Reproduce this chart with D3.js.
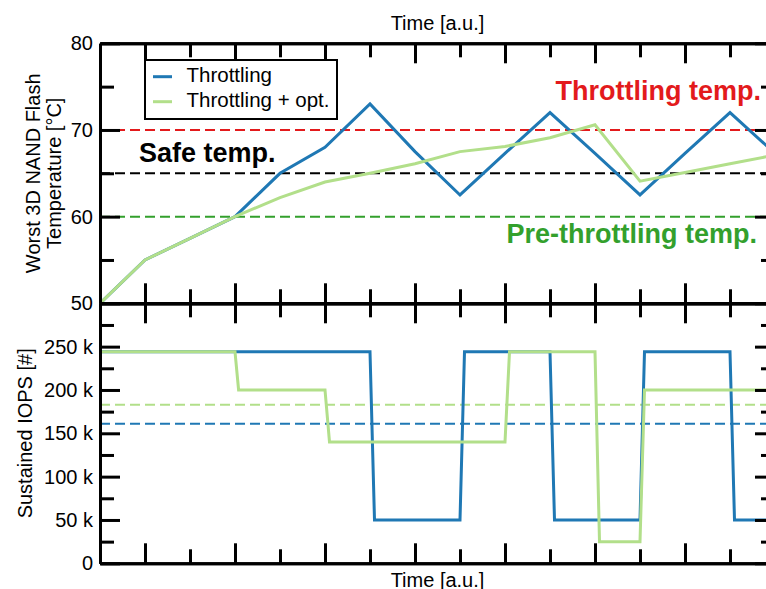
<!DOCTYPE html>
<html>
<head>
<meta charset="utf-8">
<script src="https://cdn.jsdelivr.net/npm/d3@7"></script>
<style>
  html, body { margin: 0; padding: 0; background: #fff; }
  svg { display: block; font-family: "Liberation Sans", Arial, Helvetica, sans-serif; }
</style>
</head>
<body>
<svg id="chart" width="766" height="589"></svg>
<script>
// Time axis (arbitrary units)
const timeSteps = [0, 1, 2, 3, 4, 5, 6, 7, 8, 9, 10, 11, 12, 13, 14, 15];
const timeMajorTicks = [1, 3, 5, 7, 9, 11, 13, 15];
const timeMinorTicks = [2, 4, 6, 8, 10, 12, 14];

// Worst 3D NAND flash temperature [°C]
const tempThrottling    = [50, 55, 57.5, 60, 65, 68, 73, 67.5, 62.5, 67.3, 72, 67.3, 62.5, 67.3, 72, 67.3];
const tempThrottlingOpt = [50, 55, 57.5, 60, 62.2, 64, 65, 66.1, 67.5, 68.1, 69.1, 70.6, 64.1, 65.1, 66.1, 67.1];

// Temperature thresholds
const thresholdNames  = ["Throttling temp.", "Safe temp.", "Pre-throttling temp."];
const thresholdValues = [70, 65, 60];

// Sustained IOPS (step profiles)
const iopsThrottlingTime = [0, 6, 6.1, 8, 8.1, 10, 10.1, 12, 12.1, 14, 14.1, 15];
const iopsThrottling     = [244000, 244000, 50000, 50000, 244000, 244000, 50000, 50000, 244000, 244000, 50000, 50000];
const iopsOptTime        = [0, 3, 3.08, 5, 5.1, 9, 9.1, 11, 11.1, 12, 12.1, 15];
const iopsOpt            = [244000, 244000, 200000, 200000, 140000, 140000, 244000, 244000, 25000, 25000, 200000, 200000];

// Average sustained IOPS
const avgIopsThrottling = 161000;
const avgIopsOpt        = 183000;

// Axis ticks
const tempMajorTicks = [50, 60, 70, 80];
const tempMinorTicks = [55, 65, 75];
const iopsMajorTicks = [0, 50000, 100000, 150000, 200000, 250000];
const iopsMinorTicks = [25000, 75000, 125000, 175000, 225000, 275000];
const seriesNames = ["Throttling", "Throttling + opt."];

const BLUE = "#1f78b4", LGREEN = "#b2df8a", RED = "#e31a1c", GREEN = "#33a02c";

const svg = d3.select("#chart");
const plotLeft = 100, plotRight = 775, plotTop = 43.3, plotMid = 303.3, plotBottom = 563.3;

const x = d3.scaleLinear().domain([0, 15]).range([plotLeft, plotRight]);
const yT = d3.scaleLinear().domain([50, 80]).range([plotMid, plotTop]);
const yI = d3.scaleLinear().domain([0, 300000]).range([plotBottom, plotMid]);

const MAJ = 20, MIN = 14, AX = 3;

function styleAxis(g) {
  g.select(".domain").attr("stroke", "#000").attr("stroke-width", AX);
  g.selectAll(".tick line").attr("stroke", "#000").attr("stroke-width", AX);
  g.selectAll(".tick text").attr("fill", "#000").attr("font-size", 20)
    .attr("font-family", "'Liberation Sans', Arial, sans-serif");
}

// ---------- Reference / threshold lines (drawn under the data) ----------
const thrColors = [RED, "#000", GREEN];
svg.append("g").selectAll("line").data(thresholdValues).join("line")
  .attr("x1", x(0)).attr("x2", x(15))
  .attr("y1", d => yT(d)).attr("y2", d => yT(d))
  .attr("stroke", (d, i) => thrColors[i]).attr("stroke-width", 2)
  .attr("stroke-dasharray", "10,5");

svg.append("g").selectAll("line").data([avgIopsOpt, avgIopsThrottling]).join("line")
  .attr("x1", x(0)).attr("x2", x(15))
  .attr("y1", d => yI(d)).attr("y2", d => yI(d))
  .attr("stroke", (d, i) => i === 0 ? LGREEN : BLUE).attr("stroke-width", 2)
  .attr("stroke-dasharray", "10,5");

// ---------- Data lines ----------
const lineT = d3.line().x((d, i) => x(timeSteps[i])).y(d => yT(d));
svg.append("path").datum(tempThrottling).attr("d", lineT)
  .attr("fill", "none").attr("stroke", BLUE).attr("stroke-width", 3).attr("stroke-linejoin", "miter");
svg.append("path").datum(tempThrottlingOpt).attr("d", lineT)
  .attr("fill", "none").attr("stroke", LGREEN).attr("stroke-width", 3).attr("stroke-linejoin", "miter");

const lineI = ts => d3.line().x((d, i) => x(ts[i])).y(d => yI(d));
svg.append("path").datum(iopsThrottling).attr("d", lineI(iopsThrottlingTime))
  .attr("fill", "none").attr("stroke", BLUE).attr("stroke-width", 3);
svg.append("path").datum(iopsOpt).attr("d", lineI(iopsOptTime))
  .attr("fill", "none").attr("stroke", LGREEN).attr("stroke-width", 3);

// ---------- Axes (ticks pointing inward) ----------
function axisPair(axisFn, scale, major, minor, transform, fmt) {
  const gMin = svg.append("g").attr("transform", transform)
    .call(axisFn(scale).tickValues(minor).tickSize(-MIN).tickSizeOuter(0).tickFormat(""));
  styleAxis(gMin);
  const gMaj = svg.append("g").attr("transform", transform)
    .call(axisFn(scale).tickValues(major).tickSize(-MAJ).tickSizeOuter(0).tickPadding(7)
      .tickFormat(fmt || ""));
  styleAxis(gMaj);
  return gMaj;
}

// Top panel
axisPair(d3.axisTop, x, timeMajorTicks, timeMinorTicks, `translate(0,${plotTop})`);
axisPair(d3.axisBottom, x, timeMajorTicks, timeMinorTicks, `translate(0,${plotMid})`);
axisPair(d3.axisLeft, yT, tempMajorTicks, tempMinorTicks, `translate(${plotLeft},0)`, d3.format("d"));
axisPair(d3.axisRight, yT, tempMajorTicks, tempMinorTicks, `translate(${plotRight},0)`);

// Bottom panel
axisPair(d3.axisTop, x, timeMajorTicks, timeMinorTicks, `translate(0,${plotMid})`);
axisPair(d3.axisBottom, x, timeMajorTicks, timeMinorTicks, `translate(0,${plotBottom})`);
axisPair(d3.axisLeft, yI, iopsMajorTicks, iopsMinorTicks, `translate(${plotLeft},0)`,
  d => d === 0 ? "0" : (d / 1000) + " k");
axisPair(d3.axisRight, yI, iopsMajorTicks, iopsMinorTicks, `translate(${plotRight},0)`);

// ---------- Axis titles ----------
const cx = (plotLeft + plotRight) / 2;
svg.append("text").attr("x", cx).attr("y", 30).attr("text-anchor", "middle")
  .attr("font-size", 20).text("Time [a.u.]");
svg.append("text").attr("x", cx).attr("y", 586.5).attr("text-anchor", "middle")
  .attr("font-size", 20).text("Time [a.u.]");

const tMid = (plotTop + plotMid) / 2;
svg.append("text").attr("transform", `translate(40,${tMid}) rotate(-90)`)
  .attr("text-anchor", "middle").attr("font-size", 20).text("Worst 3D NAND Flash");
svg.append("text").attr("transform", `translate(61,${tMid}) rotate(-90)`)
  .attr("text-anchor", "middle").attr("font-size", 20).text("Temperature [°C]");
const iMid = (plotMid + plotBottom) / 2;
svg.append("text").attr("transform", `translate(32,${iMid}) rotate(-90)`)
  .attr("text-anchor", "middle").attr("font-size", 20).text("Sustained IOPS [#]");

// ---------- Threshold annotations ----------
svg.append("text").attr("x", 761).attr("y", 100).attr("text-anchor", "end")
  .attr("font-size", 27).attr("font-weight", "bold").attr("fill", RED).text(thresholdNames[0]);
svg.append("text").attr("x", 139).attr("y", 162).attr("text-anchor", "start")
  .attr("font-size", 27).attr("font-weight", "bold").attr("fill", "#000").text(thresholdNames[1]);
svg.append("text").attr("x", 757).attr("y", 243).attr("text-anchor", "end")
  .attr("font-size", 27).attr("font-weight", "bold").attr("fill", GREEN).text(thresholdNames[2]);

// ---------- Legend ----------
const lg = svg.append("g");
lg.append("rect").attr("x", 145).attr("y", 60).attr("width", 192).attr("height", 59)
  .attr("fill", "#fff").attr("stroke", "#000").attr("stroke-width", 2);
[BLUE, LGREEN].forEach((c, i) => {
  const ly = 76.7 + i * 25;
  lg.append("line").attr("x1", 153).attr("x2", 172).attr("y1", ly).attr("y2", ly)
    .attr("stroke", c).attr("stroke-width", 3);
  lg.append("text").attr("x", 186.5).attr("y", ly + 5.5).attr("font-size", 20.5)
    .text(seriesNames[i]);
});
</script>
</body>
</html>
